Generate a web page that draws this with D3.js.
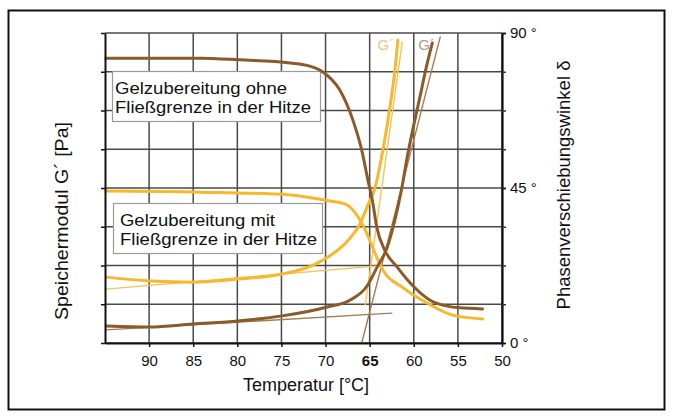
<!DOCTYPE html>
<html>
<head>
<meta charset="utf-8">
<script src="https://cdn.jsdelivr.net/npm/d3@7"></script>
<style>
  html, body { margin: 0; padding: 0; background: #fff; }
  svg { display: block; font-family: "Liberation Sans", Arial, sans-serif; }
</style>
</head>
<body>
<svg id="chart" width="673" height="418"></svg>
<script>
// Temperature ticks (°C, falling from left to right)
const tempTicks = [90, 85, 80, 75, 70, 65, 60, 55, 50];
const deltaTicks = [0, 45, 90];
const deltaMinorTicks = [0, 11.25, 22.5, 33.75, 45, 56.25, 67.5, 78.75, 90];
const gTicks = [0, 1, 2, 3, 4, 5, 6, 7, 8];

// Phase angle δ, gel without yield point (brown)
const ohneDeltaTemp = [94.9, 84.2, 79.7, 74.0, 71.8, 70.3, 68.4, 66.9, 65.9, 65.2, 64.7, 64.2, 63.3, 61.9, 60.4, 58.2, 56.2, 54.8, 52.2];
const ohneDelta     = [82.7, 82.7, 82.2, 81.3, 80.4, 78.7, 73.5, 64.7, 56.0, 47.3, 41.5, 33.7, 27.0, 22.1, 17.4, 12.5, 10.7, 10.2, 9.9];

// Phase angle δ, gel with yield point (yellow)
const mitDeltaTemp = [94.9, 84.2, 74.0, 69.5, 67.8, 66.7, 65.9, 65.2, 64.5, 63.5, 61.2, 58.5, 55.6, 52.2];
const mitDelta     = [44.1, 43.8, 43.0, 41.2, 40.4, 38.0, 34.8, 31.1, 26.7, 21.2, 16.0, 11.6, 8.1, 7.0];

// Storage modulus G' (relative units), gel with yield point (yellow)
const mitGTemp = [94.8, 89.9, 85.0, 79.9, 74.9, 71.4, 69.5, 67.4, 66.1, 65.2, 64.4, 63.5, 62.7, 62.1, 61.8];
const mitG     = [1.70, 1.60, 1.57, 1.65, 1.78, 2.01, 2.25, 2.66, 3.07, 3.56, 4.00, 4.98, 6.09, 7.12, 7.82];

// Storage modulus G' (relative units), gel without yield point (brown)
const ohneGTemp = [94.8, 89.9, 85.0, 79.9, 74.9, 69.8, 67.2, 65.3, 64.2, 63.0, 62.2, 61.4, 60.7, 60.0, 59.3, 58.6, 57.9];
const ohneG     = [0.44, 0.41, 0.49, 0.57, 0.70, 0.93, 1.11, 1.47, 1.94, 2.48, 3.12, 3.95, 4.85, 5.63, 6.35, 7.10, 7.74];

// Tangent construction lines on the G' curves: [[T1, G1], [T2, G2]]
const mitBaseTangent  = [[94.9, 1.39], [64.1, 1.99]];
const mitSteepTangent = [[65.5, 0.98], [61.3, 7.77]];
const ohneBaseTangent  = [[94.9, 0.34], [62.5, 0.77]];
const ohneSteepTangent = [[65.9, 0.00], [57.0, 7.90]];

const boxLabels = [
  ["Gelzubereitung ohne", "Fließgrenze in der Hitze"],
  ["Gelzubereitung mit", "Fließgrenze in der Hitze"]
];

const BROWN = "#8c5a28";
const YELLOW = "#f6b82c";
const BROWN_THIN = "#a47b52";
const YELLOW_THIN = "#f4c35c";
const GRID = "#4a4a4a";

const svg = d3.select("#chart");

const x = d3.scaleLinear().domain([95, 50]).range([105, 502]);
const yD = d3.scaleLinear().domain([0, 90]).range([343, 33]);
const yG = d3.scaleLinear().domain([0, 8]).range([343, 33]);

// outer frame
svg.append("rect")
  .attr("x", 8.5).attr("y", 10.5)
  .attr("width", 656).attr("height", 399)
  .attr("fill", "none").attr("stroke", "#111").attr("stroke-width", 2);

// grid
const grid = svg.append("g");
grid.selectAll("line.v").data(tempTicks).join("line")
  .attr("x1", d => x(d)).attr("x2", d => x(d))
  .attr("y1", yG(8)).attr("y2", yG(0))
  .attr("stroke", GRID).attr("stroke-width", 1.5);
grid.selectAll("line.h").data(gTicks).join("line")
  .attr("x1", x(95)).attr("x2", x(50))
  .attr("y1", d => yG(d)).attr("y2", d => yG(d))
  .attr("stroke", GRID).attr("stroke-width", 1.5);

// legend boxes (text widths follow the printed labels)
const boxes = [
  { x: 112, y: 71.5, w: 208, h: 50, lines: boxLabels[0], widths: [172, 196], tx: 115, ty: 94 },
  { x: 113, y: 203.5, w: 209, h: 50, lines: boxLabels[1], widths: [155, 197], tx: 120, ty: 226 }
];
boxes.forEach(b => {
  svg.append("rect")
    .attr("x", b.x + 0.5).attr("y", b.y)
    .attr("width", b.w).attr("height", b.h)
    .attr("fill", "#fff").attr("stroke", "#9a9a9a").attr("stroke-width", 1.2);
  b.lines.forEach((line, i) => {
    svg.append("text")
      .attr("x", b.tx).attr("y", b.ty + i * 19)
      .attr("font-size", 17).attr("fill", "#111")
      .attr("textLength", b.widths[i]).attr("lengthAdjust", "spacingAndGlyphs")
      .text(line);
  });
});

// curves
const curveLine = (yScale) => d3.line()
  .x(d => x(d[0])).y(d => yScale(d[1]))
  .curve(d3.curveMonotoneX);
const straight = (yScale) => d3.line().x(d => x(d[0])).y(d => yScale(d[1]));

const zip = (a, b) => a.map((v, i) => [v, b[i]]);

const plot = svg.append("g").attr("fill", "none").attr("stroke-linecap", "round");

// tangents (thin)
[[mitBaseTangent, YELLOW_THIN], [mitSteepTangent, YELLOW_THIN],
 [ohneBaseTangent, BROWN_THIN], [ohneSteepTangent, BROWN_THIN]].forEach(([pts, c]) => {
  plot.append("path").attr("d", straight(yG)(pts))
    .attr("stroke", c).attr("stroke-width", 1.4);
});

// main curves
plot.append("path").attr("d", curveLine(yD)(zip(mitDeltaTemp, mitDelta)))
  .attr("stroke", YELLOW).attr("stroke-width", 3);
plot.append("path").attr("d", curveLine(yG)(zip(mitGTemp, mitG)))
  .attr("stroke", YELLOW).attr("stroke-width", 3);
plot.append("path").attr("d", curveLine(yD)(zip(ohneDeltaTemp, ohneDelta)))
  .attr("stroke", BROWN).attr("stroke-width", 3);
plot.append("path").attr("d", curveLine(yG)(zip(ohneGTemp, ohneG)))
  .attr("stroke", BROWN).attr("stroke-width", 3);

// G' tags at the top of the steep curves
svg.append("text").attr("x", x(64.1)).attr("y", yG(7.56))
  .attr("font-size", 15).attr("fill", "#f3c47e").text("G´");
svg.append("text").attr("x", x(59.5)).attr("y", yG(7.56))
  .attr("font-size", 15).attr("fill", "#b39c88").text("G´");

// axes
const bottom = svg.append("g").attr("transform", `translate(0,${yG(0)})`)
  .call(d3.axisBottom(x).tickValues(tempTicks).tickSizeInner(4).tickSizeOuter(0).tickPadding(8));
bottom.select(".domain").attr("stroke", "#111").attr("stroke-width", 2);
bottom.selectAll(".tick line").attr("stroke", "#111").attr("stroke-width", 1.5);
bottom.selectAll(".tick text")
  .attr("font-size", 15).attr("fill", "#111")
  .attr("font-family", "Liberation Sans, Arial, sans-serif")
  .attr("font-weight", d => d === 65 ? "bold" : "normal");

const left = svg.append("g").attr("transform", `translate(${x(95)},0)`)
  .call(d3.axisLeft(yG).tickValues(gTicks).tickSizeInner(4).tickSizeOuter(0).tickFormat(""));
left.select(".domain").attr("stroke", "#111").attr("stroke-width", 2);
left.selectAll(".tick line").attr("stroke", "#111").attr("stroke-width", 1.5);

const rightMinor = svg.append("g").attr("transform", `translate(${x(50)},0)`)
  .call(d3.axisRight(yD).tickValues(deltaMinorTicks).tickSizeInner(4).tickSizeOuter(0).tickFormat(""));
rightMinor.select(".domain").attr("stroke", "#111").attr("stroke-width", 2.2);
rightMinor.selectAll(".tick line").attr("stroke", "#333").attr("stroke-width", 1.5);

const right = svg.append("g").attr("transform", `translate(${x(50)},0)`)
  .call(d3.axisRight(yD).tickValues(deltaTicks).tickSizeInner(4).tickSizeOuter(0).tickPadding(4)
    .tickFormat(d => d + " °"));
right.select(".domain").remove();
right.selectAll(".tick line").attr("stroke", "#111").attr("stroke-width", 1.5);
right.selectAll(".tick text")
  .attr("font-size", 15).attr("fill", "#111")
  .attr("font-family", "Liberation Sans, Arial, sans-serif");

// axis titles
svg.append("text")
  .attr("x", 306).attr("y", 391)
  .attr("text-anchor", "middle").attr("font-size", 18).attr("fill", "#111")
  .text("Temperatur [°C]");

svg.append("text")
  .attr("transform", "translate(68,221) rotate(-90)")
  .attr("text-anchor", "middle").attr("font-size", 18).attr("fill", "#111")
  .attr("textLength", 198).attr("lengthAdjust", "spacingAndGlyphs")
  .text("Speichermodul G´ [Pa]");

svg.append("text")
  .attr("transform", "translate(570,185) rotate(-90)")
  .attr("text-anchor", "middle").attr("font-size", 18.5).attr("fill", "#111")
  .text("Phasenverschiebungswinkel δ");
</script>
</body>
</html>
